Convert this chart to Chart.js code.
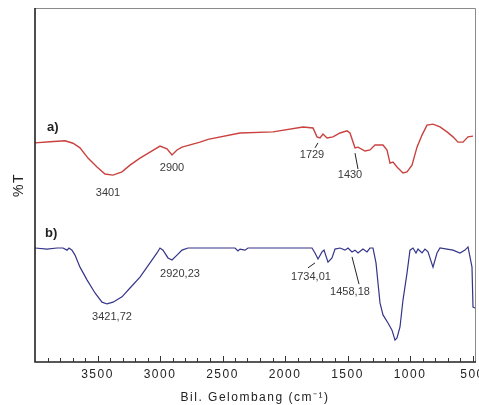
<!DOCTYPE html>
<html lang="id">
<head>
    <meta charset="UTF-8">
    <title>Spektrum FTIR</title>
    <style>
        body {
            margin: 0;
            padding: 0;
            background-color: #ffffff;
        }

        .chart-container {
            width: 479px;
            height: 405px;
            position: relative;
        }
    </style>
</head>
<body>
    <div class="chart-container">
        <canvas id="ftirChart"></canvas>
    </div>

    <script src="https://cdn.jsdelivr.net/npm/chart.js"></script>
    <script>
        // spectrum a) - wavenumber (cm-1) and %T (arbitrary scale)
        const waveA = [4000, 3880, 3760, 3696, 3640, 3576, 3504, 3440, 3376, 3304, 3240, 3160, 3080, 3000,
            2944, 2904, 2864, 2824, 2680, 2616, 2360, 2096, 1856, 1776, 1744, 1720, 1696, 1664, 1616,
            1560, 1504, 1480, 1440, 1416, 1360, 1320, 1280, 1216, 1184, 1160, 1136, 1104, 1056, 1024,
            984, 944, 904, 864, 816, 760, 704, 656, 616, 576, 536, 496];
        const transA = [61.9, 62.2, 62.5, 61.8, 60.5, 57.6, 55.1, 53.1, 52.8, 53.7, 55.6, 57.6, 59.3, 61.0,
            60.2, 58.5, 59.9, 60.7, 62.1, 62.9, 64.7, 65.0, 66.4, 66.1, 63.6, 63.3, 64.4, 63.3, 63.6,
            64.7, 65.3, 64.7, 60.5, 60.7, 59.6, 59.9, 61.3, 61.3, 59.9, 56.2, 56.5, 55.1, 53.4, 53.7,
            55.6, 60.7, 64.1, 66.9, 67.2, 66.4, 65.0, 63.6, 62.1, 62.1, 63.6, 63.8];

        // spectrum b)
        const waveB = [4000, 3904, 3824, 3776, 3744, 3728, 3704, 3680, 3640, 3584, 3520, 3464, 3424, 3376,
            3304, 3240, 3160, 3080, 3024, 3000, 2976, 2936, 2904, 2864, 2824, 2776, 2400, 2376, 2360,
            2320, 2296, 1784, 1760, 1736, 1704, 1688, 1656, 1624, 1600, 1560, 1520, 1496, 1464, 1440,
            1416, 1376, 1344, 1320, 1296, 1272, 1256, 1240, 1216, 1176, 1144, 1120, 1104, 1080, 1056,
            1024, 1000, 976, 952, 936, 904, 880, 856, 816, 784, 760, 704, 656, 600, 560, 536, 504, 496, 480];
        const transB = [32.2, 31.9, 32.2, 32.2, 31.6, 32.2, 31.6, 30.2, 26.8, 23.2, 19.5, 16.9, 16.4, 16.9,
            18.4, 20.9, 24.0, 28.0, 30.8, 32.2, 31.6, 29.4, 28.8, 30.2, 31.6, 32.2, 32.2, 31.4, 31.9,
            31.6, 32.2, 32.2, 30.8, 29.1, 31.1, 31.6, 28.2, 29.4, 31.9, 32.2, 31.6, 32.2, 31.1, 31.6,
            30.8, 31.9, 31.1, 32.2, 32.2, 28.0, 22.3, 16.7, 13.3, 11.0, 9.0, 6.2, 6.8, 9.9, 17.5,
            25.1, 31.6, 32.2, 30.8, 31.9, 30.8, 31.9, 31.1, 26.8, 30.8, 32.2, 31.9, 31.6, 30.8, 31.6, 32.5, 26.8, 15.5, 15.3];

        const tickLabels = [3500, 3000, 2500, 2000, 1500, 1000, 500];

        // peak labels: text, label position (wavenumber, %T), optional pointer line
        const peakText = ['3401', '2900', '1729', '1430', '3421,72', '2920,23', '1734,01', '1458,18'];
        const peakWave = [3416, 2904, 1784, 1480, 3384, 2840, 1792, 1480];
        const peakTrans = [47.7, 54.8, 58.5, 52.8, 12.7, 24.9, 24.0, 19.8];
        const pointerFrom = [null, null, [1736, 61.9], [1440, 59.0], null, null, [1760, 28.0], [1464, 29.7]];
        const pointerTo = [null, null, [1760, 60.5], [1416, 54.5], null, null, [1816, 26.6], [1408, 22.0]];

        const seriesNames = ['a)', 'b)'];
        const seriesNameWave = [3904, 3920];
        const seriesNameTrans = [66.4, 36.4];

        const toPoints = (xs, ys) => xs.map((x, i) => ({ x: x, y: ys[i] }));

        const ftirDecor = {
            id: 'ftirDecor',
            beforeDraw(chart) {
                chart.ctx.letterSpacing = '1.5px';
            },
            afterDraw(chart) {
                const ctx = chart.ctx;
                const xs = chart.scales.x;
                const ys = chart.scales.y;
                const area = chart.chartArea;
                ctx.save();
                ctx.letterSpacing = '0px';

                // frame
                ctx.strokeStyle = '#8a8a8a';
                ctx.lineWidth = 1;
                ctx.beginPath();
                ctx.moveTo(area.left, area.top + 0.5);
                ctx.lineTo(area.right + 0.5, area.top + 0.5);
                ctx.lineTo(area.right + 0.5, area.bottom);
                ctx.stroke();
                ctx.strokeStyle = '#222';
                ctx.lineWidth = 1.6;
                ctx.beginPath();
                ctx.moveTo(area.left, area.top);
                ctx.lineTo(area.left, area.bottom);
                ctx.lineTo(area.right + 1, area.bottom);
                ctx.stroke();

                // inward ticks every 100 cm-1
                ctx.lineWidth = 1;
                ctx.strokeStyle = '#333';
                for (let w = 500; w < 4000; w += 100) {
                    const px = Math.round(xs.getPixelForValue(w)) + 0.5;
                    const len = (w % 500 === 0) ? 6 : 4;
                    ctx.beginPath();
                    ctx.moveTo(px, area.bottom);
                    ctx.lineTo(px, area.bottom - len);
                    ctx.stroke();
                }

                // peak labels
                ctx.fillStyle = '#3a3a3a';
                ctx.font = '11px "Liberation Sans", Arial, sans-serif';
                ctx.textAlign = 'center';
                ctx.textBaseline = 'middle';
                peakText.forEach((t, i) => {
                    ctx.fillText(t, xs.getPixelForValue(peakWave[i]), ys.getPixelForValue(peakTrans[i]));
                    if (pointerFrom[i]) {
                        ctx.strokeStyle = '#222';
                        ctx.beginPath();
                        ctx.moveTo(xs.getPixelForValue(pointerFrom[i][0]), ys.getPixelForValue(pointerFrom[i][1]));
                        ctx.lineTo(xs.getPixelForValue(pointerTo[i][0]), ys.getPixelForValue(pointerTo[i][1]));
                        ctx.stroke();
                    }
                });

                // series names
                ctx.fillStyle = '#222';
                ctx.font = 'bold 13px "Liberation Sans", Arial, sans-serif';
                ctx.textAlign = 'left';
                seriesNames.forEach((t, i) => {
                    ctx.fillText(t, xs.getPixelForValue(seriesNameWave[i]), ys.getPixelForValue(seriesNameTrans[i]));
                });
                ctx.restore();
            }
        };

        const ctx = document.getElementById('ftirChart').getContext('2d');
        const ftirChart = new Chart(ctx, {
            type: 'line',
            data: {
                datasets: [
                    {
                        label: 'a)',
                        data: toPoints(waveA, transA),
                        borderColor: '#c9423f',
                        borderWidth: 1.4,
                        pointRadius: 0,
                        tension: 0,
                        fill: false
                    },
                    {
                        label: 'b)',
                        data: toPoints(waveB, transB),
                        borderColor: '#34348a',
                        borderWidth: 1.2,
                        pointRadius: 0,
                        tension: 0,
                        fill: false
                    }
                ]
            },
            options: {
                responsive: true,
                maintainAspectRatio: false,
                animation: false,
                layout: {
                    padding: { top: 8, right: 4, left: 0, bottom: 0 }
                },
                plugins: {
                    legend: { display: false },
                    tooltip: { enabled: false }
                },
                scales: {
                    x: {
                        type: 'linear',
                        reverse: true,
                        min: 480,
                        max: 4000,
                        grid: { display: false, drawTicks: false },
                        border: { display: false },
                        afterBuildTicks: (scale) => {
                            scale.ticks = tickLabels.map(v => ({ value: v }));
                        },
                        afterFit: (scale) => {
                            scale.height = 43;
                            scale.paddingLeft = 0;
                            scale.paddingRight = 0;
                        },
                        ticks: {
                            padding: 5,
                            color: '#222',
                            font: { family: '"Liberation Sans", Arial, sans-serif', size: 12 },
                            maxRotation: 0,
                            autoSkip: false,
                            callback: (v) => String(v)
                        },
                        title: {
                            display: true,
                            text: 'Bil. Gelombang (cm⁻¹)',
                            color: '#222',
                            font: { family: '"Liberation Sans", Arial, sans-serif', size: 12 },
                            padding: { top: 0, bottom: 0 }
                        }
                    },
                    y: {
                        min: 0,
                        max: 100,
                        grid: { display: false, drawTicks: false },
                        border: { display: false },
                        ticks: { display: false },
                        afterFit: (scale) => { scale.width = 35; },
                        title: {
                            display: true,
                            text: '%T',
                            color: '#222',
                            font: { family: '"Liberation Sans", Arial, sans-serif', size: 14 },
                            padding: { top: 11, bottom: 0 }
                        }
                    }
                }
            },
            plugins: [ftirDecor]
        });
    </script>
</body>
</html>
